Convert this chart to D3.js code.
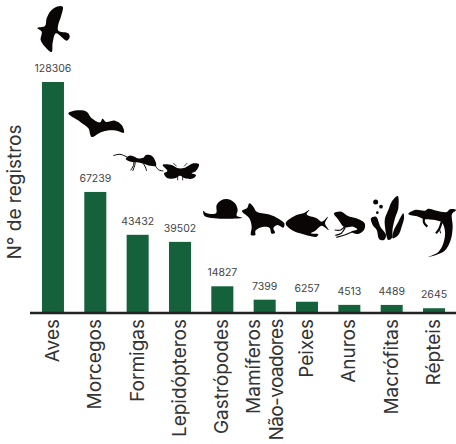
<!DOCTYPE html>
<html>
<head>
<meta charset="utf-8">
<script src="https://cdn.jsdelivr.net/npm/d3@7"></script>
<style>
  html, body { margin: 0; padding: 0; background: #fff; }
  svg { display: block; }
  text { font-family: Inter, "Liberation Sans", Arial, sans-serif; }
</style>
</head>
<body>
<div id="chart"></div>
<script>
// Registros por grupo taxonômico
const categories = ["Aves", "Morcegos", "Formigas", "Lepidópteros", "Gastrópodes",
  "Mamíferos|Não-voadores", "Peixes", "Anuros", "Macrófitas", "Répteis"];
const records = [128306, 67239, 43432, 39502, 14827, 7399, 6257, 4513, 4489, 2645];
const yTitle = "N° de registros";

// Silhouette outlines, each [offsetX, offsetY, outline at 3x]
const silhouettes = [
  // ave
  [0, 0, [[188,20],[170,20],[152,33],[140,55],[135,78],[112,84],[125,95],[122,120],[135,140],[155,156],[158,128],[168,100],[200,122],[209,112],[205,100],[175,92],[174,78],[184,46]]],
  // morcego
  [0, 0, [[205,340],[235,331],[260,335],[275,355],[300,367],[308,356],[318,366],[345,362],[365,375],[372,398],[350,392],[320,392],[300,398],[275,411],[265,385],[240,365]]],
  // formiga
  [110, 145, [[47,42],[58,32],[75,36],[82,40],[100,38],[108,30],[125,32],[136,48],[138,62],[120,62],[100,56],[80,52],[62,50]]],
  // mariposa
  [110, 145, [[158,60],[185,60],[205,70],[225,68],[250,55],[267,58],[258,78],[245,85],[258,90],[250,100],[225,100],[210,92],[195,100],[170,98],[162,85],[172,78]]],
  // caracol: concha e pé
  [110, 145, [[318,205],[320,180],[335,165],[355,163],[375,175],[383,195],[380,212],[397,218],[340,221],[305,219],[283,212],[280,197],[287,203]]],
  // raposa
  [240, 195, [[6,48],[22,38],[28,25],[40,35],[50,50],[85,58],[110,68],[133,85],[130,98],[112,90],[100,100],[105,113],[95,116],[88,98],[60,98],[46,108],[46,120],[33,120],[35,95],[28,70]]],
  // peixe
  [240, 195, [[137,85],[165,62],[190,55],[208,45],[200,58],[230,70],[245,80],[264,65],[255,85],[266,105],[245,92],[225,108],[212,115],[235,118],[230,125],[205,122],[180,115],[155,105]]],
  // anuro
  [228, 180, [[318,100],[340,95],[360,108],[385,115],[410,130],[408,150],[390,162],[370,155],[388,148],[375,140],[350,142],[330,118]]],
  // macrófita: três folhas
  [350, 190, [[143,18],[125,35],[115,60],[105,85],[105,110],[115,150],[125,145],[128,115],[135,85],[145,55]]],
  [350, 190, [[63,85],[78,80],[92,112],[108,135],[102,150],[88,148],[80,120],[68,105]]],
  [350, 190, [[160,70],[145,95],[130,125],[128,145],[145,135],[155,110],[162,85]]],
  // lagarto
  [350, 190, [[175,72],[195,60],[225,62],[235,56],[260,62],[290,66],[300,58],[318,60],[306,72],[308,110],[302,150],[283,183],[235,201],[265,186],[280,160],[285,125],[276,98],[255,90],[225,88],[205,80]]]
];
// Thin limbs and antennae: [offsetX, offsetY, path at 3x, stroke width]
const limbs = [
  [110, 145, [[10,32],[30,28],[55,38]], 1],
  [110, 145, [[72,48],[70,62],[62,76]], 1],
  [110, 145, [[76,48],[74,62],[68,78]], 1],
  [110, 145, [[100,56],[106,66],[110,78]], 1],
  [110, 145, [[136,62],[145,74],[160,78]], 1],
  [110, 145, [[190,54],[200,64]], 0.8],
  [110, 145, [[232,54],[222,64]], 0.8],
  [110, 145, [[203,90],[203,106]], 0.8],
  [110, 145, [[218,90],[218,106]], 0.8],
  [228, 180, [[350,140],[338,150],[320,150]], 1.2],
  [228, 180, [[352,142],[340,160],[322,166]], 1.2],
  [228, 180, [[372,156],[350,165],[325,172]], 1.2],
  [350, 190, [[222,84],[222,98],[232,110]], 2.2],
  [350, 190, [[275,96],[268,116],[258,130]], 2.2],
  [350, 190, [[268,116],[272,130]], 1]
];
// Bolhas da macrófita [x, y, raio] at 3x
const bubbles = [[77,36,7.5],[93,50,5.5],[82,68,4]];

const width = 456, height = 444;
const baseline = 313;

const svg = d3.select("#chart").append("svg")
  .attr("width", width).attr("height", height);

const x = d3.scaleBand().domain(categories)
  .range([31.8, 455.2]).paddingInner(0.48).paddingOuter(0.24);
const y = d3.scaleLinear().domain([0, 128306]).range([baseline, 82]);

// Barras
svg.append("g").selectAll("rect").data(records).join("rect")
  .attr("x", (d, i) => x(categories[i]))
  .attr("y", d => y(d))
  .attr("width", x.bandwidth())
  .attr("height", d => baseline - y(d))
  .attr("fill", "#14613c");

// Rótulos de valor
svg.append("g").selectAll("text").data(records).join("text")
  .attr("x", (d, i) => x(categories[i]) + x.bandwidth() / 2)
  .attr("y", d => y(d) - 10)
  .attr("text-anchor", "middle")
  .attr("font-size", 10.5)
  .attr("fill", "#444")
  .text(d => d);

// Eixo das categorias
const axis = svg.append("g")
  .attr("transform", `translate(0,${baseline})`)
  .call(d3.axisBottom(x).tickSize(0).tickPadding(0));
axis.select(".domain").remove();
axis.append("line")
  .attr("x1", 30).attr("x2", 456)
  .attr("stroke", "#222").attr("stroke-width", 2.4);
axis.selectAll(".tick text").each(function (label) {
  const lines = label.split("|");
  const t = d3.select(this)
    .text(null)
    .attr("y", 0).attr("dy", null)
    .attr("transform", "translate(0,6) rotate(-90)")
    .attr("text-anchor", "end")
    .attr("font-size", 19)
    .attr("fill", "#333")
    .style("font-family", 'Inter, "Liberation Sans", Arial, sans-serif');
  lines.forEach((line, i) => {
    t.append("tspan")
      .attr("x", 0)
      .attr("y", lines.length > 1 ? (i === 0 ? -5 : 18) : 6)
      .attr("letter-spacing", i === 1 ? -0.6 : 0)
      .text(line);
  });
});

// Título do eixo vertical
svg.append("text")
  .attr("transform", "translate(21,192) rotate(-90)")
  .attr("text-anchor", "middle")
  .attr("font-size", 19)
  .attr("fill", "#333")
  .text(yTitle);

// Silhuetas dos grupos
const outline = d3.line().curve(d3.curveCatmullRomClosed.alpha(0.5));
const open = d3.line().curve(d3.curveCatmullRom.alpha(0.5));
const icons = svg.append("g").attr("fill", "#0a0606");
const at = ([ox, oy, pts]) => pts.map(([a, b]) => [ox + a / 3, oy + b / 3]);

icons.selectAll("path.shape").data(silhouettes).join("path")
  .attr("class", "shape")
  .attr("d", d => outline(at(d)));
icons.selectAll("path.limb").data(limbs).join("path")
  .attr("class", "limb")
  .attr("fill", "none").attr("stroke", "#0a0606")
  .attr("stroke-width", d => d[3])
  .attr("d", d => open(at(d)));
icons.selectAll("circle").data(bubbles).join("circle")
  .attr("cx", d => 350 + d[0] / 3)
  .attr("cy", d => 190 + d[1] / 3)
  .attr("r", d => d[2] / 3);
</script>
</body>
</html>
